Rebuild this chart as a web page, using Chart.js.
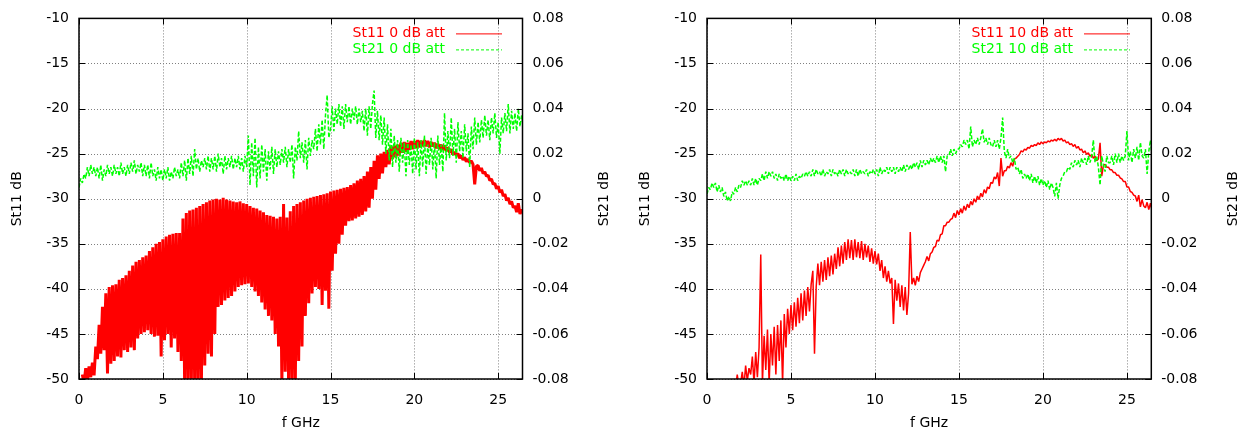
<!DOCTYPE html>
<html>
<head>
<meta charset="utf-8">
<script src="https://cdn.jsdelivr.net/npm/chart.js@4.4.0/dist/chart.umd.min.js"></script>
<style>
  html, body { margin: 0; padding: 0; background: #fff; }
  #wrap { position: relative; width: 1247px; height: 432px; }
  canvas { position: absolute; top: 0; }
</style>
</head>
<body>
<div id="wrap">
  <canvas id="c0" width="624" height="432" style="left:0px"></canvas>
  <canvas id="c10" width="619" height="432" style="left:628px"></canvas>
</div>
<script>
// samples are every 0.1 GHz starting at 0
const fStep = 0.1;
const xTicks = [0, 5, 10, 15, 20, 25];
const s11Ticks = [-50, -45, -40, -35, -30, -25, -20, -15, -10];
const s21Ticks = [-0.08, -0.06, -0.04, -0.02, 0, 0.02, 0.04, 0.06, 0.08];

// St11 (dB), 0 dB attenuator
const st11_0 = [
  null, null, -49.5, -50.5, -48.8, -50.2, -48.6, -49.8, -48.2, -49.6,
  -46.4, -47.8, -44, -47.2, -42, -46.8, -40.5, -49.4, -39.8, -48.3,
  -39.6, -48, -39.5, -47.5, -39, -47.6, -38.8, -46.8, -38.5, -47,
  -38, -46.5, -37.4, -46.8, -37, -45.5, -36.8, -45, -36.5, -44.8,
  -36.3, -44.6, -35.8, -45, -35.4, -45.3, -35, -45.2, -34.8, -47.5,
  -34.5, -45.7, -34.2, -45, -34, -46.5, -33.9, -45.5, -33.8, -47,
  -33.8, -48, -32.2, -50.5, -31.6, -51, -31.3, -50.5, -31.2, -51,
  -31, -51, -30.8, -50.5, -30.6, -48.5, -30.4, -47.2, -30.2, -47.5,
  -30.1, -45, -30, -42, -30.1, -41.8, -29.9, -41.3, -30.1, -41,
  -30.2, -40.8, -30.3, -40.3, -30.4, -39.8, -30.3, -39.6, -30.5, -39.5,
  -30.6, -39.4, -30.8, -39.8, -31, -40.3, -31.1, -40.8, -31.3, -41.5,
  -31.5, -42.3, -31.8, -43, -31.9, -43.5, -32, -45, -32.2, -46.4,
  -32, -50.5, -30.6, -49.2, -32.1, -50.5, -31.4, -51, -30.8, -50.5,
  -30.6, -48, -30.4, -46.4, -30.2, -43, -30, -41.6, -29.9, -40.5,
  -29.8, -39.8, -29.7, -40, -29.6, -41.8, -29.5, -40.2, -29.4, -42.2,
  -29.2, -38, -29.1, -36.1, -29, -35, -28.9, -34, -28.8, -33,
  -28.7, -32.5, -28.5, -32.4, -28.3, -32.2, -28, -32, -27.8, -31.8,
  -27.5, -31.4, -27, -31, -26.5, -30, -25.8, -29, -25.2, -27.8,
  -25, -27.2, -24.8, -26.5, -24.6, -26.2, -24.2, -25.6, -24.1, -25.4,
  -24, -25.2, -23.8, -24.9, -23.7, -24.8, -23.8, -24.6, -23.6, -24.5,
  -23.6, -24.4, -23.5, -24.3, -23.6, -24.2, -23.5, -24.2, -23.6, -24.3,
  -23.7, -24.2, -23.8, -24.4, -23.9, -24.5, -24, -24.6, -24.1, -24.7,
  -24.3, -24.9, -24.5, -25.1, -24.8, -25.2, -25, -25.5, -25.2, -25.7,
  -25.4, -25.9, -25.6, -26, -25.8, -26.2, -28.4, -26.4, -26.3, -26.9,
  -26.6, -27.2, -27, -27.5, -27.4, -28, -27.8, -28.4, -28.3, -28.9,
  -28.6, -29.3, -29, -29.7, -29.5, -30.2, -29.9, -30.6, -30.3, -31,
  -30.8, -31.5, -30.5, -31.7, -31.2, -31.6
];

// St21 (dB), 0 dB attenuator
const st21_0 = [
  0.005, 0.009, 0.007, 0.011, 0.009, 0.014, 0.010, 0.015, 0.011, 0.014,
  0.010, 0.014, 0.009, 0.015, 0.008, 0.013, 0.010, 0.015, 0.011, 0.014,
  0.010, 0.015, 0.011, 0.014, 0.010, 0.016, 0.011, 0.014, 0.010, 0.015,
  0.011, 0.016, 0.012, 0.017, 0.011, 0.015, 0.012, 0.016, 0.010, 0.015,
  0.010, 0.015, 0.009, 0.016, 0.010, 0.013, 0.008, 0.014, 0.009, 0.013,
  0.008, 0.013, 0.009, 0.014, 0.008, 0.012, 0.009, 0.014, 0.010, 0.013,
  0.009, 0.016, 0.010, 0.017, 0.008, 0.018, 0.011, 0.019, 0.010, 0.022,
  0.013, 0.018, 0.012, 0.017, 0.014, 0.018, 0.013, 0.019, 0.012, 0.018,
  0.013, 0.019, 0.012, 0.020, 0.014, 0.018, 0.011, 0.019, 0.013, 0.018,
  0.014, 0.019, 0.013, 0.018, 0.014, 0.019, 0.013, 0.018, 0.012, 0.019,
  0.014, 0.028, 0.006, 0.025, 0.010, 0.027, 0.005, 0.023, 0.009, 0.024,
  0.012, 0.022, 0.008, 0.021, 0.013, 0.023, 0.011, 0.022, 0.014, 0.021,
  0.015, 0.022, 0.016, 0.023, 0.014, 0.022, 0.016, 0.024, 0.009, 0.023,
  0.017, 0.030, 0.018, 0.025, 0.016, 0.026, 0.013, 0.027, 0.019, 0.026,
  0.022, 0.031, 0.021, 0.033, 0.024, 0.035, 0.022, 0.037, 0.046, 0.027,
  0.031, 0.041, 0.030, 0.040, 0.033, 0.042, 0.032, 0.041, 0.031, 0.042,
  0.034, 0.041, 0.033, 0.040, 0.035, 0.041, 0.033, 0.040, 0.034, 0.039,
  0.030, 0.040, 0.028, 0.041, 0.031, 0.042, 0.048, 0.027, 0.039, 0.026,
  0.037, 0.024, 0.036, 0.020, 0.033, 0.017, 0.031, 0.014, 0.028, 0.016,
  0.026, 0.012, 0.027, 0.016, 0.025, 0.010, 0.026, 0.015, 0.024, 0.011,
  0.027, 0.013, 0.025, 0.010, 0.026, 0.014, 0.028, 0.011, 0.024, 0.015,
  0.027, 0.013, 0.025, 0.009, 0.028, 0.015, 0.024, 0.012, 0.038, 0.017,
  0.030, 0.018, 0.036, 0.019, 0.031, 0.016, 0.034, 0.021, 0.030, 0.018,
  0.033, 0.021, 0.029, 0.014, 0.032, 0.022, 0.036, 0.024, 0.034, 0.025,
  0.035, 0.027, 0.037, 0.028, 0.035, 0.026, 0.036, 0.029, 0.038, 0.027,
  0.034, 0.020, 0.036, 0.029, 0.038, 0.030, 0.042, 0.029, 0.039, 0.031,
  0.038, 0.030, 0.040, 0.032, 0.037, 0.031
];

// St11 (dB), 10 dB attenuator
const st11_10 = [
  null, null, null, null, null, null, null, null, null, null,
  null, null, null, null, null, null, -50, -51, -49.5, -50.8,
  -50.5, -49.2, -50.8, -48.5, -50.2, -48.8, -49.5, -47.5, -50.5, -47,
  -49.8, -46.5, -36.2, -50.5, -45.2, -49, -44.5, -50.5, -45, -48.5,
  -44.2, -49.5, -44, -48, -43.5, -50.5, -42.8, -46.5, -42.2, -45,
  -41.8, -44.6, -41.5, -44.2, -41, -43.8, -40.5, -43.5, -40.2, -43,
  -39.8, -42.5, -39.5, -38, -47.2, -39.8, -37.2, -39.6, -37, -39.2,
  -36.8, -39, -36.5, -38.6, -36.3, -38.4, -36.1, -37.8, -35.4, -37.5,
  -35.2, -37.2, -34.8, -36.8, -34.5, -36.6, -34.6, -36.8, -34.5, -36.5,
  -34.8, -36.6, -34.7, -36.8, -35, -36.5, -35.2, -37, -35.5, -37.2,
  -35.8, -37.3, -36.1, -38, -36.8, -38.8, -37.5, -39.2, -38, -39.4,
  -38.8, -43.9, -39, -41.3, -39.4, -42, -39.6, -42.4, -39.8, -42.9,
  -40.5, -33.7, -39.5, -38.8, -39.6, -38.6, -39.2, -38.2, -37.8, -37.4,
  -37, -36.4, -36.9, -36.1, -35.9, -35.4, -35.3, -34.6, -34.7, -34,
  -33.9, -33, -33, -32.6, -32.6, -32.3, -32.2, -31.6, -32.1, -31.3,
  -31.8, -31.1, -31.6, -30.8, -31.3, -30.6, -31, -30.3, -30.7, -30,
  -30.4, -29.7, -30.1, -29.4, -29.8, -29, -29.4, -28.7, -28.9, -28.2,
  -28.3, -27.6, -27.8, -27.1, -28.6, -25.5, -27.5, -26.9, -26.9, -26.4,
  -26.6, -26, -26.4, -25.6, -25.5, -25.3, -25.1, -24.7, -24.8, -24.5,
  -24.6, -24.3, -24.4, -24.1, -24.2, -24, -24.1, -23.8, -24, -23.7,
  -23.9, -23.7, -23.8, -23.6, -23.7, -23.5, -23.6, -23.4, -23.6, -23.3,
  -23.5, -23.3, -23.6, -23.5, -23.8, -23.7, -24, -23.9, -24.2, -24,
  -24.4, -24.2, -24.6, -24.5, -24.9, -24.7, -25.1, -24.9, -25.3, -25.1,
  -25.5, -25.3, -25.8, -25.6, -23.8, -27.5, -26.3, -26.2, -26.5, -26.5,
  -26.8, -26.8, -27.1, -27.1, -27.4, -27.4, -27.7, -27.8, -28.1, -28.1,
  -28.7, -28.7, -29.2, -29.3, -29.6, -29.7, -30.3, -29.6, -30.9, -30.1,
  -30.8, -31, -30.4, -31.2, -30.5, -31.3
];

// St21 (dB), 10 dB attenuator
const st21_10 = [
  0.002, 0.005, 0.004, 0.007, 0.005, 0.007, 0.003, 0.006, 0.003, 0.005,
  0.001, 0.003, -0.001, 0.001, -0.001, 0.003, 0.002, 0.005, 0.003, 0.006,
  0.005, 0.008, 0.006, 0.008, 0.006, 0.008, 0.006, 0.009, 0.006, 0.009,
  0.006, 0.009, 0.008, 0.011, 0.008, 0.012, 0.009, 0.012, 0.010, 0.012,
  0.009, 0.011, 0.008, 0.011, 0.009, 0.010, 0.008, 0.011, 0.008, 0.010,
  0.008, 0.010, 0.008, 0.011, 0.008, 0.010, 0.009, 0.011, 0.010, 0.012,
  0.010, 0.012, 0.010, 0.013, 0.010, 0.013, 0.011, 0.012, 0.010, 0.013,
  0.010, 0.012, 0.011, 0.013, 0.010, 0.013, 0.011, 0.012, 0.010, 0.013,
  0.011, 0.013, 0.010, 0.013, 0.011, 0.012, 0.011, 0.013, 0.010, 0.013,
  0.010, 0.013, 0.011, 0.012, 0.011, 0.013, 0.010, 0.012, 0.011, 0.013,
  0.011, 0.013, 0.010, 0.014, 0.011, 0.013, 0.012, 0.014, 0.011, 0.014,
  0.012, 0.014, 0.011, 0.014, 0.012, 0.014, 0.012, 0.015, 0.012, 0.015,
  0.013, 0.015, 0.013, 0.016, 0.014, 0.016, 0.013, 0.017, 0.014, 0.017,
  0.015, 0.017, 0.015, 0.018, 0.016, 0.018, 0.016, 0.019, 0.016, 0.019,
  0.016, 0.019, 0.012, 0.019, 0.019, 0.022, 0.019, 0.022, 0.020, 0.022,
  0.022, 0.024, 0.023, 0.026, 0.024, 0.026, 0.022, 0.032, 0.023, 0.026,
  0.024, 0.027, 0.024, 0.027, 0.031, 0.025, 0.027, 0.024, 0.027, 0.024,
  0.023, 0.026, 0.023, 0.026, 0.022, 0.027, 0.036, 0.021, 0.018, 0.022,
  0.018, 0.019, 0.016, 0.018, 0.013, 0.014, 0.011, 0.013, 0.009, 0.011,
  0.009, 0.011, 0.008, 0.011, 0.007, 0.010, 0.007, 0.010, 0.006, 0.009,
  0.006, 0.008, 0.005, 0.008, 0.004, 0.007, 0.005, 0.001, 0.007, 0.000,
  0.006, 0.009, 0.010, 0.012, 0.012, 0.014, 0.013, 0.016, 0.014, 0.017,
  0.015, 0.017, 0.014, 0.018, 0.016, 0.018, 0.015, 0.019, 0.016, 0.019,
  0.026, 0.016, 0.019, 0.014, 0.006, 0.019, 0.015, 0.012, 0.019, 0.016,
  0.016, 0.019, 0.015, 0.020, 0.016, 0.020, 0.016, 0.019, 0.017, 0.019,
  0.030, 0.017, 0.021, 0.016, 0.022, 0.018, 0.023, 0.017, 0.025, 0.019,
  0.018, 0.022, 0.011, 0.021, 0.026, 0.018
];

const FONT = { family: '"DejaVu Sans", sans-serif', size: 14 };
const FONT_CSS = '14px "DejaVu Sans", sans-serif';

// gnuplot look: dotted grid, inward ticks, frame, right title and in-plot key
const gnuplotLook = {
  id: 'gnuplotLook',
  beforeDatasetsDraw(chart) {
    const { ctx, chartArea: a, scales } = chart;
    ctx.save();
    ctx.strokeStyle = '#808080';
    ctx.lineWidth = 1;
    ctx.setLineDash([1, 2]);
    ctx.beginPath();
    xTicks.forEach(v => {
      const px = Math.round(scales.x.getPixelForValue(v)) + 0.5;
      ctx.moveTo(px, a.top); ctx.lineTo(px, a.bottom);
    });
    s11Ticks.forEach(v => {
      const py = Math.round(scales.y.getPixelForValue(v)) + 0.5;
      ctx.moveTo(a.left, py); ctx.lineTo(a.right, py);
    });
    ctx.stroke();
    ctx.restore();
  },
  afterDraw(chart) {
    const { ctx, chartArea: a, scales } = chart;
    ctx.save();
    ctx.strokeStyle = '#000';
    ctx.lineWidth = 1;
    ctx.beginPath();
    xTicks.forEach(v => {
      const px = Math.round(scales.x.getPixelForValue(v)) + 0.5;
      ctx.moveTo(px, a.bottom); ctx.lineTo(px, a.bottom - 6);
      ctx.moveTo(px, a.top); ctx.lineTo(px, a.top + 6);
    });
    s11Ticks.forEach(v => {
      const py = Math.round(scales.y.getPixelForValue(v)) + 0.5;
      ctx.moveTo(a.left, py); ctx.lineTo(a.left + 6, py);
    });
    s21Ticks.forEach(v => {
      const py = Math.round(scales.y2.getPixelForValue(v)) + 0.5;
      ctx.moveTo(a.right, py); ctx.lineTo(a.right - 6, py);
    });
    ctx.stroke();
    ctx.lineWidth = 1.5;
    ctx.strokeRect(a.left, a.top, a.right - a.left, a.bottom - a.top);

    // right axis title, reading bottom to top like gnuplot
    ctx.fillStyle = '#000';
    ctx.font = FONT_CSS;
    ctx.textAlign = 'center';
    ctx.textBaseline = 'middle';
    ctx.save();
    ctx.translate(a.right + 82, (a.top + a.bottom) / 2);
    ctx.rotate(-Math.PI / 2);
    ctx.fillText('St21 dB', 0, 0);
    ctx.restore();

    // key
    chart.data.datasets.forEach((ds, i) => {
      const y = a.top + 15 + i * 16;
      ctx.fillStyle = ds.borderColor;
      ctx.textAlign = 'right';
      ctx.fillText(ds.label, a.left + 366, y);
      ctx.strokeStyle = ds.borderColor;
      ctx.lineWidth = 1;
      ctx.setLineDash(ds.borderDash ? [3, 2] : []);
      ctx.beginPath();
      ctx.moveTo(a.left + 377, y + 0.5);
      ctx.lineTo(a.left + 423, y + 0.5);
      ctx.stroke();
    });
    ctx.restore();
  }
};

function makeChart(id, s11, s21, tag, rightW, s11Width) {
  const freq = s11.map((v, i) => +(i * fStep).toFixed(1));
  return new Chart(document.getElementById(id), {
    type: 'line',
    data: {
      datasets: [
        {
          label: 'St11 ' + tag + ' att',
          data: s11.map((v, i) => ({ x: freq[i], y: v })),
          yAxisID: 'y',
          borderColor: '#ff0000',
          borderWidth: s11Width,
          borderJoinStyle: 'bevel',
          pointRadius: 0,
          order: 1
        },
        {
          label: 'St21 ' + tag + ' att',
          data: s21.map((v, i) => ({ x: freq[i], y: v })),
          yAxisID: 'y2',
          borderColor: '#00ff00',
          borderWidth: 1.5,
          borderJoinStyle: 'bevel',
          borderDash: [4, 2],
          pointRadius: 0,
          order: 0
        }
      ]
    },
    options: {
      responsive: false,
      animation: false,
      devicePixelRatio: 1,
      layout: { padding: { top: 17, left: 0, right: 0, bottom: 0 } },
      elements: { line: { tension: 0 } },
      plugins: { legend: { display: false }, tooltip: { enabled: false } },
      scales: {
        x: {
          type: 'linear',
          min: 0,
          max: 26.45,
          afterBuildTicks: s => { s.ticks = xTicks.map(v => ({ value: v })); },
          afterFit: s => { s.height = 53; },
          grid: { display: false, drawTicks: false },
          border: { display: false },
          ticks: { font: FONT, color: '#000', padding: 13, maxRotation: 0 },
          title: { display: true, text: 'f GHz', font: FONT, color: '#000', padding: { top: 0, bottom: 0 } }
        },
        y: {
          position: 'left',
          min: -50,
          max: -10,
          afterBuildTicks: s => { s.ticks = s11Ticks.map(v => ({ value: v })); },
          afterFit: s => { s.width = 79; },
          grid: { display: false, drawTicks: false },
          border: { display: false },
          ticks: { font: FONT, color: '#000', padding: 10, callback: v => String(v) },
          title: { display: true, text: 'St11 dB', font: FONT, color: '#000', padding: { top: 9, bottom: 0 } }
        },
        y2: {
          position: 'right',
          min: -0.08,
          max: 0.08,
          afterBuildTicks: s => { s.ticks = s21Ticks.map(v => ({ value: v })); },
          afterFit: s => { s.width = rightW; },
          grid: { display: false, drawTicks: false },
          border: { display: false },
          ticks: { font: FONT, color: '#000', padding: 10, callback: v => String(v) }
        }
      }
    },
    plugins: [gnuplotLook]
  });
}

makeChart('c0', st11_0, st21_0, '0 dB', 101.5, 3);
makeChart('c10', st11_10, st21_10, '10 dB', 95.7, 1.5);
</script>
</body>
</html>
